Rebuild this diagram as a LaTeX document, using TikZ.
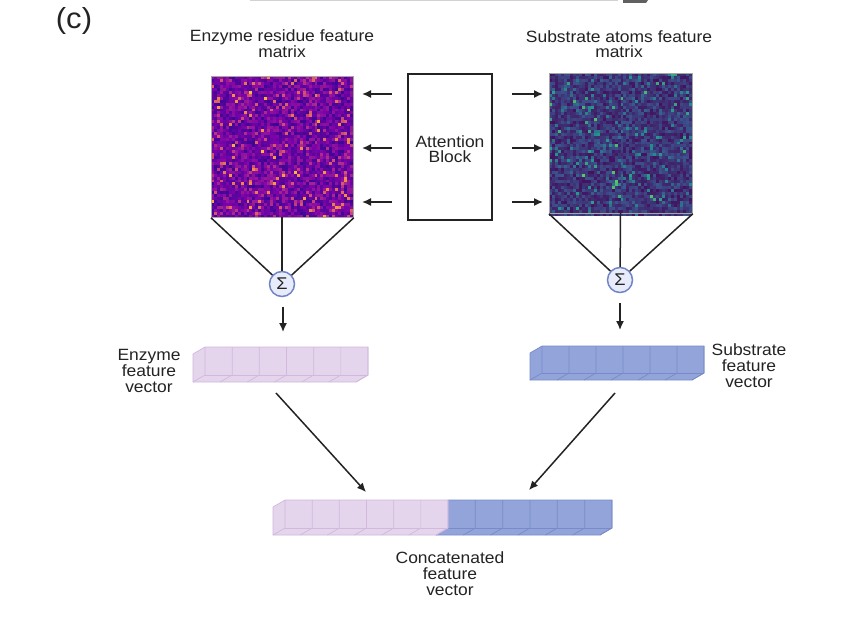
\documentclass[tikz,border=0pt]{standalone}
\usepackage{fontspec}
\setmainfont{Liberation Sans}[FakeStretch=1.07]
\usetikzlibrary{arrows.meta}
\definecolor{pinkf}{RGB}{229,213,236}
\definecolor{pinke}{RGB}{208,184,222}
\definecolor{bluef}{RGB}{146,164,217}
\definecolor{bluee}{RGB}{120,139,200}
\definecolor{sigf}{RGB}{232,236,250}
\definecolor{sige}{RGB}{112,132,200}
\definecolor{ink}{RGB}{35,35,35}
\newcommand\fvec[7]{%
  \pgfmathsetmacro\fvXe{#1+#3*#4}%
  \pgfmathsetmacro\fvYb{#2+#5}%
  \fill[#6,draw=#7,line width=0.7pt] (#1-12,#2+7) -- (#1,#2) -- (\fvXe,#2) -- (\fvXe,\fvYb) -- (\fvXe-12,\fvYb+7) -- (#1-12,\fvYb+7) -- cycle;
  \draw[#7,line width=0.7pt] (#1,\fvYb) -- (\fvXe,\fvYb);
  \foreach \k in {0,...,#3}{
    \pgfmathsetmacro\fvX{#1+\k*#4}
    \draw[#7,line width=0.7pt] (\fvX,#2) -- (\fvX,\fvYb) -- (\fvX-12,\fvYb+7);
  }%
}
\newcommand\plasmamap[4]{% x0 y0 cells cellsize
  \foreach \i in {1,...,#3}{
    \foreach \j in {1,...,#3}{
      \pgfmathsetmacro\ua{rnd}%
      \pgfmathsetmacro\ub{rnd}%
      \pgfmathsetmacro\tv{min(0.10+0.23*\ua+0.55*\ub^12,1)}%
      \pgfmathsetmacro\cR{ifthenelse(\tv<0.25,13+452*\tv,ifthenelse(\tv<0.5,126+312*(\tv-0.25),ifthenelse(\tv<0.75,204+176*(\tv-0.5),248-32*(\tv-0.75))))/255}%
      \pgfmathsetmacro\cG{ifthenelse(\tv<0.25,8-20*\tv,ifthenelse(\tv<0.5,3+272*(\tv-0.25),ifthenelse(\tv<0.75,71+312*(\tv-0.5),149+400*(\tv-0.75))))/255}%
      \pgfmathsetmacro\cB{ifthenelse(\tv<0.25,135+132*\tv,ifthenelse(\tv<0.5,168-192*(\tv-0.25),ifthenelse(\tv<0.75,120-224*(\tv-0.5),64-124*(\tv-0.75))))/255}%
      \definecolor{cc}{rgb}{\cR,\cG,\cB}%
      \fill[cc] ({#1+(\i-1)*#4},{#2+(\j-1)*#4}) rectangle ++(#4+0.35,#4+0.35);
    }
  }%
}
\newcommand\viridismap[4]{%
  \foreach \i in {1,...,#3}{
    \foreach \j in {1,...,#3}{
      \pgfmathsetmacro\ua{rnd}%
      \pgfmathsetmacro\ub{rnd}%
      \pgfmathsetmacro\tv{min(0.05+0.20*\ua+0.55*\ub^14,1)}%
      \pgfmathsetmacro\cR{ifthenelse(\tv<0.25,68-36*\tv,ifthenelse(\tv<0.5,59-104*(\tv-0.25),ifthenelse(\tv<0.75,33+244*(\tv-0.5),94+636*(\tv-0.75))))/255}%
      \pgfmathsetmacro\cG{ifthenelse(\tv<0.25,1+324*\tv,ifthenelse(\tv<0.5,82+252*(\tv-0.25),ifthenelse(\tv<0.75,145+224*(\tv-0.5),201+120*(\tv-0.75))))/255}%
      \pgfmathsetmacro\cB{ifthenelse(\tv<0.25,84+220*\tv,ifthenelse(\tv<0.5,139+4*(\tv-0.25),ifthenelse(\tv<0.75,140-168*(\tv-0.5),98-244*(\tv-0.75))))/255}%
      \definecolor{cc}{rgb}{\cR,\cG,\cB}%
      \fill[cc] ({#1+(\i-1)*#4},{#2+(\j-1)*#4}) rectangle ++(#4+0.35,#4+0.35);
    }
  }%
}
\begin{document}
\begin{tikzpicture}[x=1pt,y=-1pt,
  txt/.style={font=\fontsize{16.3}{15}\selectfont, align=center, inner sep=0pt, text=ink},
  txtb/.style={font=\fontsize{16.3}{16}\selectfont, align=center, inner sep=0pt, text=ink},
  arr/.style={draw=ink, line width=1.5pt, -{Latex[length=9pt,width=8pt]}},
  ln/.style={draw=ink, line width=1.5pt},
  hm/.style={draw=gray!70, line width=0.8pt, inner sep=0pt, anchor=north west},
  sig/.style={circle, fill=sigf, draw=sige, line width=1.5pt, minimum size=25pt, inner sep=0pt, font=\fontsize{17}{17}\selectfont, text=ink}]
\useasboundingbox (0,0) rectangle (858,634);
\fill[white] (0,0) rectangle (858,634);
% cropped remains of the panel above
\draw[gray!35, line width=1pt] (250,0.5) -- (618,0.5);
\fill[gray!75!black] (623,0) -- (648,0) -- (646,3) -- (623,3) -- cycle;
\node[font=\fontsize{29}{29}\selectfont, inner sep=0pt, text=ink] (lab) at (74,21) {(c)};
\node[txt] (tl) at (282,44) {Enzyme residue feature\\matrix};
\node[txt] (tr) at (619,44) {Substrate atoms feature\\matrix};
% heatmaps
\pgfmathsetseed{7}
\plasmamap{211}{76}{48}{2.958}
\node[hm, minimum width=142pt, minimum height=141pt] (hmL) at (211,76) {};
\pgfmathsetseed{13}
\viridismap{549}{73}{48}{2.979}
\node[hm, minimum width=143pt, minimum height=140pt] (hmR) at (549,73) {};
% attention block
\node[draw=ink, line width=1.5pt, minimum width=84pt, minimum height=146pt, inner sep=0pt] (att) at (450,147) {};
\node[txt] (attt) at (450,149) {Attention\\Block};
\foreach \yy/\nm in {94/a,148/b,202/c}{
  \coordinate (l\nm s) at (392,\yy); \coordinate (l\nm e) at (362,\yy);
  \coordinate (r\nm s) at (512,\yy); \coordinate (r\nm e) at (543,\yy);
  \draw[arr] (l\nm s) -- (l\nm e);
  \draw[arr] (r\nm s) -- (r\nm e);
}
% sums
\node[sig] (sL) at (282,284) {Σ};
\node[sig] (sR) at (620,280) {Σ};
\coordinate (hmLm) at (282,217);
\coordinate (hmRm) at (620.5,213);
\draw[ln] (hmL.south west) -- (sL);
\draw[ln] (hmLm) -- (sL);
\draw[ln] (hmL.south east) -- (sL);
\draw[ln] (hmR.south west) -- (sR);
\draw[ln] (hmRm) -- (sR);
\draw[ln] (hmR.south east) -- (sR);
\coordinate (aLs) at (283,307); \coordinate (aLe) at (283,332);
\coordinate (aRs) at (620,303); \coordinate (aRe) at (620,330);
\draw[arr] (aLs) -- (aLe);
\draw[arr] (aRs) -- (aRe);
% feature vectors
\fvec{205}{347}{6}{27.17}{28}{pinkf}{pinke}
\fvec{542}{346}{6}{27}{27}{bluef}{bluee}
\node[txtb] (elab) at (149,371) {Enzyme\\feature\\vector};
\node[txtb] (slab) at (749,366) {Substrate\\feature\\vector};
% concatenated
\fvec{448}{500}{6}{27.33}{28}{bluef}{bluee}
\fvec{285}{500}{6}{27.17}{28}{pinkf}{pinke}
\node[txtb] (clab) at (450,574) {Concatenated\\feature\\vector};
\coordinate (cLs) at (276,393); \coordinate (cLe) at (366,492);
\coordinate (cRs) at (615,393); \coordinate (cRe) at (529,490);
\draw[arr] (cLs) -- (cLe);
\draw[arr] (cRs) -- (cRe);
\end{tikzpicture}
\end{document}
